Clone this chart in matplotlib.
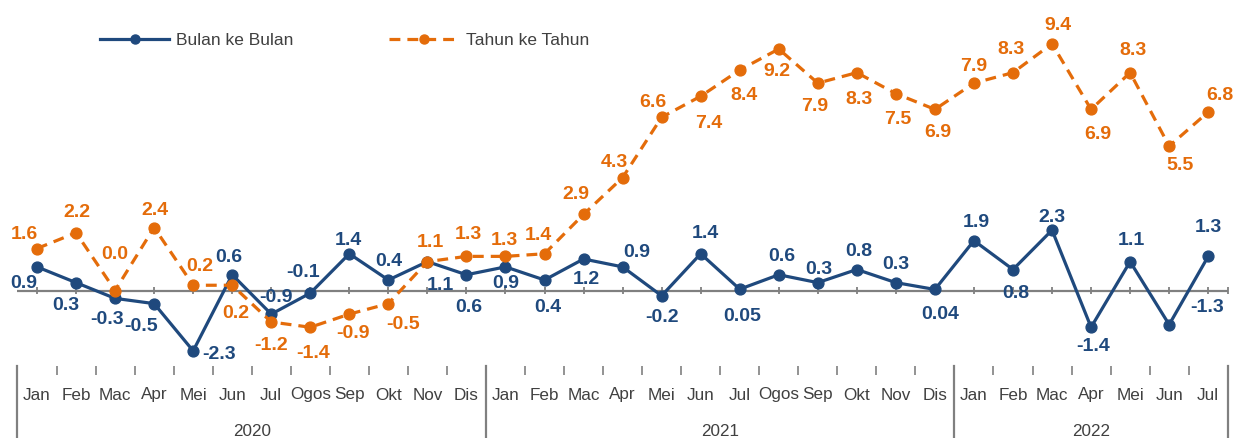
import matplotlib
matplotlib.use("Agg")
import matplotlib.pyplot as plt
import matplotlib.transforms as mtransforms
from matplotlib.lines import Line2D

# ---------------- data ----------------
months = ["Jan", "Feb", "Mac", "Apr", "Mei", "Jun", "Jul", "Ogos", "Sep", "Okt", "Nov", "Dis",
          "Jan", "Feb", "Mac", "Apr", "Mei", "Jun", "Jul", "Ogos", "Sep", "Okt", "Nov", "Dis",
          "Jan", "Feb", "Mac", "Apr", "Mei", "Jun", "Jul"]
years = ["2020", "2021", "2022"]
year_counts = [12, 12, 7]

bulan = [0.9, 0.3, -0.3, -0.5, -2.3, 0.6, -0.9, -0.1, 1.4, 0.4, 1.1, 0.6,
         0.9, 0.4, 1.2, 0.9, -0.2, 1.4, 0.05, 0.6, 0.3, 0.8, 0.3, 0.04,
         1.9, 0.8, 2.3, -1.4, 1.1, -1.3, 1.3]
bulan_labels = ["0.9", "0.3", "-0.3", "-0.5", "-2.3", "0.6", "-0.9", "-0.1", "1.4", "0.4", "1.1", "0.6",
                "0.9", "0.4", "1.2", "0.9", "-0.2", "1.4", "0.05", "0.6", "0.3", "0.8", "0.3", "0.04",
                "1.9", "0.8", "2.3", "-1.4", "1.1", "-1.3", "1.3"]

tahun = [1.6, 2.2, 0.0, 2.4, 0.2, 0.2, -1.2, -1.4, -0.9, -0.5, 1.1, 1.3,
         1.3, 1.4, 2.9, 4.3, 6.6, 7.4, 8.4, 9.2, 7.9, 8.3, 7.5, 6.9,
         7.9, 8.3, 9.4, 6.9, 8.3, 5.5, 6.8]
tahun_labels = ["1.6", "2.2", "0.0", "2.4", "0.2", "0.2", "-1.2", "-1.4", "-0.9", "-0.5", "1.1", "1.3",
                "1.3", "1.4", "2.9", "4.3", "6.6", "7.4", "8.4", "9.2", "7.9", "8.3", "7.5", "6.9",
                "7.9", "8.3", "9.4", "6.9", "8.3", "5.5", "6.8"]

series_names = ["Bulan ke Bulan", "Tahun ke Tahun"]

# ---------------- label placement (pixel offsets, +y = down) ----------------
bulan_off = [(-13, 17), (-10, 23), (-8, 21), (-13, 23), (26, 4), (-3, -17), (5, -17), (-7, -21),
             (-1, -13), (0, -18), (13, 24), (2, 33),
             (0, 17), (3, 27), (3, 21), (14, -14), (0, 22), (5, -20), (2, 27), (3, -18),
             (1, -13), (2, -18), (0, -18), (5, 25),
             (2, -18), (3, 24), (0, -13), (2, 19), (1, -21), (38, -17), (0, -29)]
tahun_off = [(-13, -14), (1, -20), (0, -36), (1, -17), (7, -19), (4, 28), (0, 23), (3, 26),
             (4, 19), (15, 21), (3, -19), (2, -22),
             (-1, -16), (-6, -18), (-8, -20), (-8, -15), (-9, -15), (8, 27), (4, 26), (-2, 22),
             (-3, 23), (2, 27), (2, 26), (3, 23),
             (0, -17), (-2, -23), (6, -18), (7, 25), (3, -22), (11, 19), (12, -17)]

BLUE = "#1F497D"
ORANGE = "#E46C0A"
GRAY = "#808080"
TXT = "#404040"

plt.rcParams["font.family"] = ["Liberation Sans", "DejaVu Sans"]

W, H = 1233, 438
fig = plt.figure(figsize=(W / 100, H / 100), dpi=100)
ax_bottom_px = 366
ax = fig.add_axes([0, (H - ax_bottom_px) / H, 1, ax_bottom_px / H])

x0_px, dx_px = 37.0, 39.04
zero_px, unit_px = 290.5, 26.25
ax.set_xlim(-x0_px / dx_px, (W - x0_px) / dx_px)
ax.set_ylim(-(ax_bottom_px - zero_px) / unit_px, zero_px / unit_px)
for s in ax.spines.values():
    s.set_visible(False)
ax.set_yticks([])

n = len(months)
xs = list(range(n))

# zero line with small ticks at each month
ax.plot([-0.5, n - 0.5], [0, 0], color=GRAY, lw=1.6, zorder=1, solid_capstyle="butt")
ax.vlines(xs + [n - 0.5], -0.14, 0.14, color=GRAY, lw=1.3, zorder=1)

# series
ax.plot(xs, bulan, color=BLUE, lw=2.3, marker="o", markersize=7.8, zorder=3,
        label=series_names[0])
ax.plot(xs, tahun, color=ORANGE, lw=2.3, ls=(0, (3.4, 2.2)), marker="o", markersize=7.8,
        zorder=4, label=series_names[1])

for x, y, t, (ox, oy) in zip(xs, bulan, bulan_labels, bulan_off):
    ax.annotate(t, (x, y), xytext=(ox, -oy), textcoords="offset pixels", ha="center",
                va="center", fontsize=14, fontweight="bold", color=BLUE, zorder=5)
for x, y, t, (ox, oy) in zip(xs, tahun, tahun_labels, tahun_off):
    ax.annotate(t, (x, y), xytext=(ox, -oy), textcoords="offset pixels", ha="center",
                va="center", fontsize=14, fontweight="bold", color=ORANGE, zorder=5)

# category axis
ax.set_xticks(xs)
ax.set_xticklabels([])
ax.tick_params(axis="x", which="major", length=0)
ax.set_xticks([i + 0.5 for i in range(-1, n)], minor=True)
ax.tick_params(axis="x", which="minor", length=6.5, width=1.2, color=GRAY, direction="out")

trans = mtransforms.blended_transform_factory(ax.transData, ax.transAxes)
def ax_frac(px):
    return (ax_bottom_px - px) / ax_bottom_px

for x, m in zip(xs, months):
    ax.text(x, ax_frac(399.5), m, transform=trans, ha="center", va="baseline",
            fontsize=12.3, color=TXT)

start = 0
bounds = [-0.5]
for yname, cnt in zip(years, year_counts):
    end = start + cnt
    bounds.append(end - 0.5)
    ax.text((start + end - 1) / 2, ax_frac(436.5), yname, transform=trans, ha="center",
            va="baseline", fontsize=12.3, color=TXT)
    start = end
for b in bounds:
    ax.plot([b, b], [ax_frac(366), ax_frac(438)], transform=trans, color=GRAY, lw=1.6,
            clip_on=False)

# legend
handles = [Line2D([], [], color=BLUE, lw=2.3, marker="o", markersize=6.5),
           Line2D([], [], color=ORANGE, lw=2.3, ls=(0, (3.4, 2.2)), marker="o", markersize=6.5)]
leg = fig.legend(handles, series_names, loc="center left",
                 bbox_to_anchor=(100 / W, 1 - 40 / H), ncol=2, frameon=False,
                 fontsize=12.5, handlelength=4.0, handletextpad=0.4, columnspacing=5.5,
                 borderpad=0, borderaxespad=0)
for t in leg.get_texts():
    t.set_color(TXT)

fig.savefig("out.png", dpi=100)
